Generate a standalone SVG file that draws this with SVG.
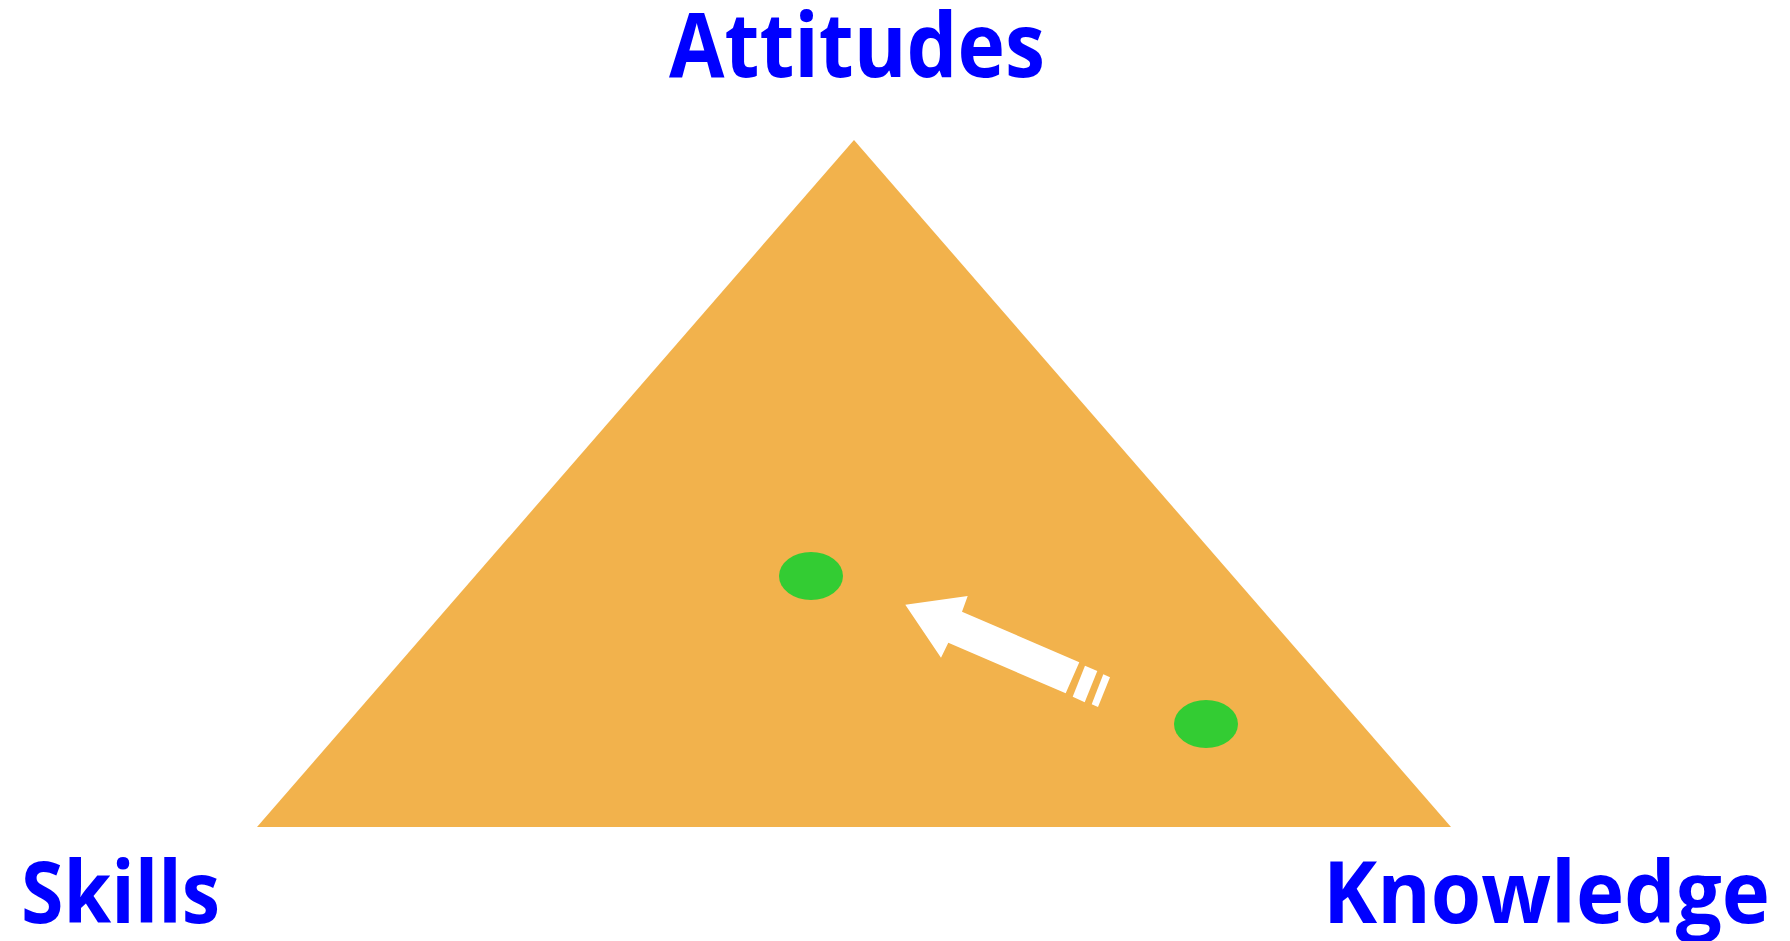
<svg xmlns="http://www.w3.org/2000/svg" width="1790" height="941" viewBox="0 0 1790 941">
<style>
.lbl{font-family:"Open Sans","Liberation Sans",sans-serif;font-weight:bold;fill:#0000FF;}
.dot{fill:#33CC33;}
.arr{fill:#FFFFFF;}
</style>
<rect width="1790" height="941" fill="#FFFFFF"/>
<g id="triangle">
<polygon points="854,140 1451,827 257,827" fill="#F2B24C"/>
</g>
<g id="attitudes"><text class="lbl" x="857" y="77" font-size="90" text-anchor="middle" textLength="376" lengthAdjust="spacingAndGlyphs">Attitudes</text></g>
<g id="skills"><text class="lbl" x="21" y="923" font-size="86" textLength="199" lengthAdjust="spacingAndGlyphs">Skills</text></g>
<g id="knowledge"><text class="lbl" x="1323" y="923" font-size="86" textLength="447" lengthAdjust="spacingAndGlyphs">Knowledge</text></g>
<g id="dot1"><ellipse class="dot" cx="811" cy="576" rx="32" ry="24"/></g>
<g id="dot2"><ellipse class="dot" cx="1206" cy="724" rx="32" ry="24"/></g>
<g id="connectors">
<polygon class="arr" points="905.3,604.7 967.7,596 962,611.7 1079.3,662.3 1065.7,693.3 948.3,642.7 941,657.7"/>
<polygon class="arr" points="1085,665.7 1097.3,671 1084.7,702.3 1072.7,696.7"/>
<polygon class="arr" points="1103.3,674.3 1110,677.3 1098,707 1091.7,704.3"/>
</g>
</svg>
